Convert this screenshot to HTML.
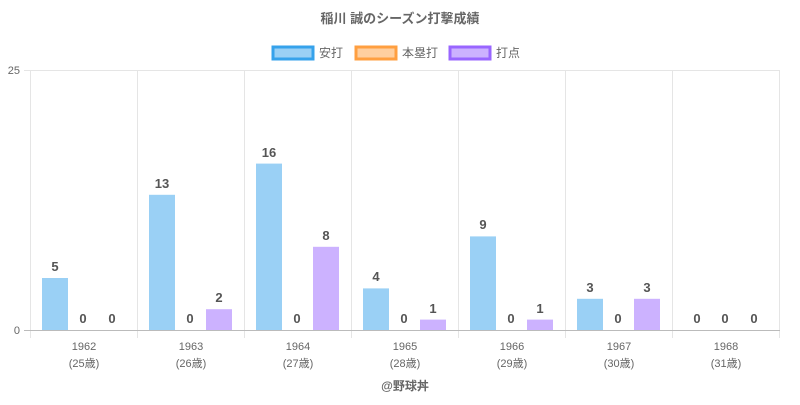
<!DOCTYPE html>
<html><head><meta charset="utf-8"><style>
body{margin:0;background:#fff;}
svg text{font-family:"Liberation Sans","Noto Sans CJK JP",sans-serif;}
</style></head><body>
<svg width="800" height="400" xmlns="http://www.w3.org/2000/svg">
<text x="400" y="23" text-anchor="middle" font-size="13" font-weight="bold" fill="#666">稲川 誠のシーズン打撃成績</text>
<rect x="273" y="47" width="40" height="12" fill="#9ad0f5" stroke="#36a2eb" stroke-width="3"/>
<text x="319" y="57" font-size="12" fill="#666">安打</text>
<rect x="356" y="47" width="40" height="12" fill="#ffcf9f" stroke="#ff9f40" stroke-width="3"/>
<text x="402" y="57" font-size="12" fill="#666">本塁打</text>
<rect x="450" y="47" width="40" height="12" fill="#ccb2ff" stroke="#9966ff" stroke-width="3"/>
<text x="496" y="57" font-size="12" fill="#666">打点</text>
<g stroke="#e5e5e5" stroke-width="1">
<line x1="30" y1="70.5" x2="780" y2="70.5"/>
<line x1="30.5" y1="70" x2="30.5" y2="338"/>
<line x1="137.5" y1="70" x2="137.5" y2="338"/>
<line x1="244.5" y1="70" x2="244.5" y2="338"/>
<line x1="351.5" y1="70" x2="351.5" y2="338"/>
<line x1="458.5" y1="70" x2="458.5" y2="338"/>
<line x1="565.5" y1="70" x2="565.5" y2="338"/>
<line x1="672.5" y1="70" x2="672.5" y2="338"/>
<line x1="779.5" y1="70" x2="779.5" y2="338"/>
<line x1="24" y1="70.5" x2="30" y2="70.5"/>
</g>
<line x1="24" y1="330.5" x2="780" y2="330.5" stroke="#bbb"/>
<text x="20" y="74" text-anchor="end" font-size="11" fill="#666">25</text>
<text x="20" y="334" text-anchor="end" font-size="11" fill="#666">0</text>
<g fill="#9ad0f5">
<rect x="42" y="278" width="26" height="52"/>
<rect x="149" y="194.8" width="26" height="135.2"/>
<rect x="256" y="163.6" width="26" height="166.4"/>
<rect x="363" y="288.4" width="26" height="41.6"/>
<rect x="470" y="236.4" width="26" height="93.6"/>
<rect x="577" y="298.8" width="26" height="31.2"/>
</g>
<g fill="#ccb2ff">
<rect x="206" y="309.2" width="26" height="20.8"/>
<rect x="313" y="246.8" width="26" height="83.2"/>
<rect x="420" y="319.6" width="26" height="10.4"/>
<rect x="527" y="319.6" width="26" height="10.4"/>
<rect x="634" y="298.8" width="26" height="31.2"/>
</g>
<g font-size="13" font-weight="bold" fill="#555" text-anchor="middle">
<text x="55" y="271">5</text><text x="83" y="323">0</text><text x="112" y="323">0</text>
<text x="162" y="188">13</text><text x="190" y="323">0</text><text x="219" y="302">2</text>
<text x="269" y="157">16</text><text x="297" y="323">0</text><text x="326" y="240">8</text>
<text x="376" y="281">4</text><text x="404" y="323">0</text><text x="433" y="313">1</text>
<text x="483" y="229">9</text><text x="511" y="323">0</text><text x="540" y="313">1</text>
<text x="590" y="292">3</text><text x="618" y="323">0</text><text x="647" y="292">3</text>
<text x="697" y="323">0</text><text x="725" y="323">0</text><text x="754" y="323">0</text>
</g>
<g font-size="11" fill="#666" text-anchor="middle">
<text x="84" y="350">1962</text><text x="84" y="367">(25歳)</text>
<text x="191" y="350">1963</text><text x="191" y="367">(26歳)</text>
<text x="298" y="350">1964</text><text x="298" y="367">(27歳)</text>
<text x="405" y="350">1965</text><text x="405" y="367">(28歳)</text>
<text x="512" y="350">1966</text><text x="512" y="367">(29歳)</text>
<text x="619" y="350">1967</text><text x="619" y="367">(30歳)</text>
<text x="726" y="350">1968</text><text x="726" y="367">(31歳)</text>
</g>
<text x="405" y="390" text-anchor="middle" font-size="12" font-weight="bold" fill="#666">@野球丼</text>
</svg>
</body></html>
